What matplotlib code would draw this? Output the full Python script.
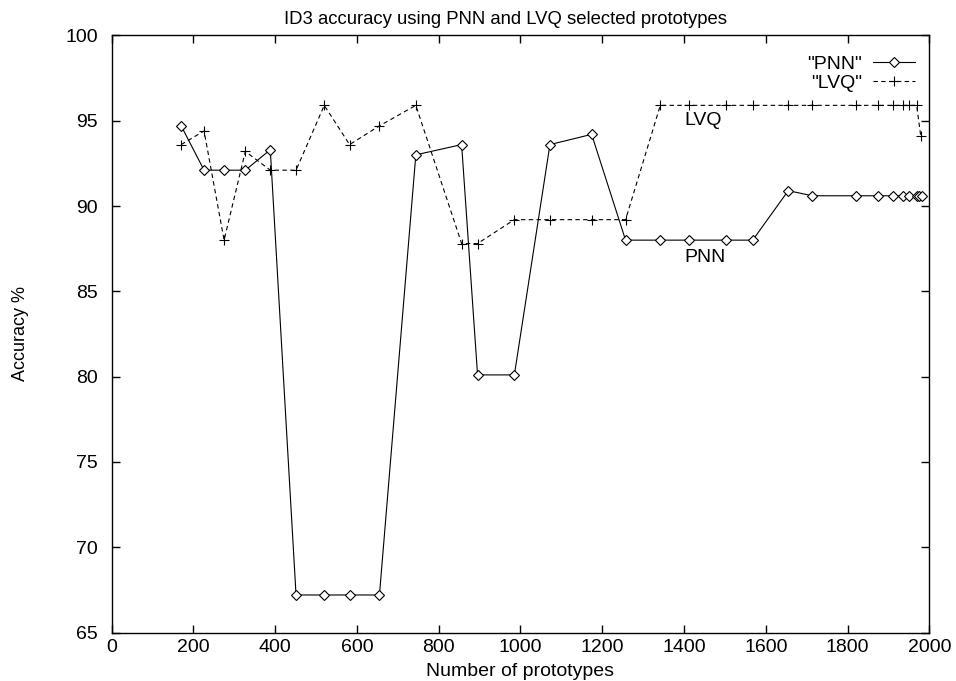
import matplotlib
matplotlib.use("Agg")
import matplotlib.pyplot as plt

pnn_x = [170, 226, 275, 327, 388, 451, 520, 582, 655, 744, 856, 895, 985, 1072,
         1174, 1257, 1342, 1413, 1503, 1568, 1655, 1714, 1820, 1875, 1912, 1936,
         1951, 1969, 1975, 1981]
pnn_y = [94.7, 92.1, 92.1, 92.1, 93.3, 67.2, 67.2, 67.2, 67.2, 93.0, 93.6, 80.1,
         80.1, 93.6, 94.2, 88.0, 88.0, 88.0, 88.0, 88.0, 90.9, 90.6, 90.6, 90.6,
         90.6, 90.6, 90.6, 90.6, 90.6, 90.6]

lvq_x = [170, 226, 275, 327, 388, 451, 520, 582, 655, 744, 856, 895, 985, 1072,
         1174, 1257, 1342, 1413, 1503, 1568, 1655, 1714, 1820, 1875, 1912, 1936,
         1951, 1969, 1979]
lvq_y = [93.6, 94.4, 88.0, 93.2, 92.1, 92.1, 95.9, 93.6, 94.7, 95.9, 87.8, 87.8,
         89.2, 89.2, 89.2, 89.2, 95.9, 95.9, 95.9, 95.9, 95.9, 95.9, 95.9, 95.9,
         95.9, 95.9, 95.9, 95.9, 94.1]

x_ticks = [0, 200, 400, 600, 800, 1000, 1200, 1400, 1600, 1800, 2000]
y_ticks = [65, 70, 75, 80, 85, 90, 95, 100]

plt.rcParams['font.family'] = ['Liberation Sans', 'DejaVu Sans']

fig = plt.figure(figsize=(9.56, 6.81), dpi=100)
ax = fig.add_axes([0.1168, 0.0712, 0.9721 - 0.1168, 0.948 - 0.0712])

lp, = ax.plot(pnn_x, pnn_y, color='black', lw=0.8, marker='D', markersize=5,
              markerfacecolor='white', markeredgecolor='black', markeredgewidth=0.8,
              label='"PNN"')
ll, = ax.plot(lvq_x, lvq_y, color='black', lw=0.8, linestyle=(0, (4, 3)), marker='+',
              markersize=7, markeredgewidth=0.8, label='"LVQ"')

ax.set_xlim(0, 2000)
ax.set_ylim(65, 100)
ax.set_xticks(x_ticks)
ax.set_yticks(y_ticks)
ax.tick_params(direction='in', length=6, width=1, top=True, right=True,
               labelsize=14)
ax.tick_params(axis='y', pad=10)
ax.tick_params(axis='x', pad=5)
for s in ax.spines.values():
    s.set_linewidth(1.0)

fig.text(505 / 956, 1 - 24 / 681, 'ID3 accuracy using PNN and LVQ selected prototypes',
         fontsize=13.3, ha='center', va='baseline')
ax.set_xlabel('Number of prototypes', fontsize=14, labelpad=5)
ax.set_ylabel('Accuracy %', fontsize=13, labelpad=26)

ax.text(1400, 95.0, 'LVQ', fontsize=14, ha='left', va='center')
ax.text(1400, 87.0, 'PNN', fontsize=14, ha='left', va='center')

ax.legend(handles=[lp, ll], loc='upper right', markerfirst=False, frameon=False,
          fontsize=14, handlelength=2.15, handletextpad=0.57, labelspacing=0.1,
          borderaxespad=0, borderpad=0, bbox_to_anchor=(0.9825, 0.967))

fig.savefig('out.png', dpi=100)
